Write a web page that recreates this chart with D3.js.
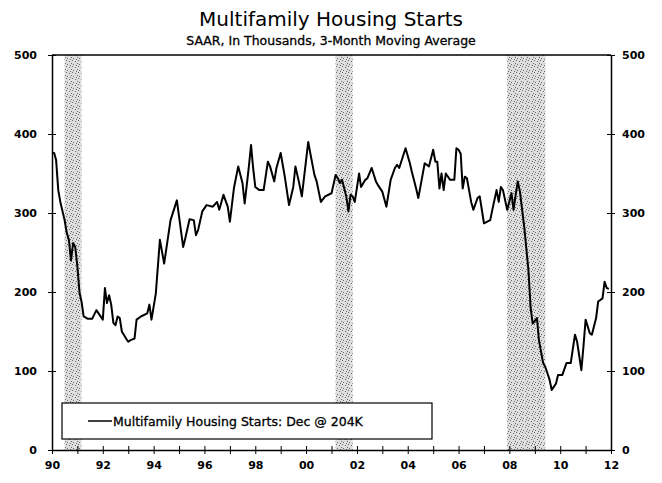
<!DOCTYPE html>
<html>
<head>
<script src="https://cdn.jsdelivr.net/npm/d3@7"></script>
<style>
  body { margin: 0; background: #fff; }
  text { font-family: "DejaVu Sans", Verdana, sans-serif; fill: #000; }
</style>
</head>
<body>
<svg width="662" height="483" id="mainsvg"></svg>
<script>
// monthly dates (3-month moving average, thousands, SAAR)
const months = [
  '1990-01','1990-02','1990-03','1990-04','1990-05','1990-07','1990-08','1990-09','1990-10','1990-11','1990-12',
  '1991-01','1991-02','1991-03','1991-04','1991-06','1991-08','1991-10','1991-11',
  '1992-01','1992-02','1992-03','1992-04','1992-05','1992-06','1992-07','1992-08','1992-09','1992-10','1992-12',
  '1993-01','1993-02','1993-04','1993-05','1993-07','1993-10','1993-11','1993-12',
  '1994-02','1994-04','1994-06','1994-09','1994-12',
  '1995-03','1995-04','1995-06','1995-08','1995-09','1995-10','1995-12',
  '1996-02','1996-05','1996-07','1996-08','1996-10','1996-12',
  '1997-01','1997-03','1997-05','1997-07','1997-08','1997-10','1997-11','1997-12',
  '1998-01','1998-03','1998-05','1998-07','1998-08','1998-10','1998-11',
  '1999-01','1999-03','1999-05','1999-07','1999-08','1999-10','1999-11',
  '2000-02','2000-03','2000-05','2000-06','2000-08','2000-10',
  '2001-01','2001-03','2001-04','2001-05','2001-06','2001-08','2001-09','2001-10','2001-11','2001-12',
  '2002-02','2002-03','2002-05','2002-06','2002-08','2002-10','2002-11',
  '2003-01','2003-03','2003-05','2003-07','2003-08','2003-09','2003-12',
  '2004-02','2004-03','2004-05','2004-06','2004-07','2004-09','2004-11',
  '2005-01','2005-02','2005-03','2005-04','2005-05','2005-06','2005-07','2005-09','2005-11','2005-12',
  '2006-01','2006-02','2006-03','2006-04','2006-05','2006-07','2006-08','2006-10','2006-11',
  '2007-01','2007-04','2007-05','2007-07','2007-08','2007-09','2007-10','2007-12',
  '2008-02','2008-03','2008-04','2008-05','2008-06','2008-08','2008-10','2008-11','2008-12',
  '2009-02','2009-03','2009-05','2009-06','2009-08','2009-09','2009-11','2009-12',
  '2010-02','2010-04','2010-06','2010-08','2010-09','2010-11','2010-12',
  '2011-01','2011-03','2011-04','2011-06','2011-07','2011-09','2011-10','2011-11','2011-12'
];
const starts = [
  376,376,367,329,314,291,275,266,240,262,257,
  232,199,188,169,166,166,177,173,
  165,205,186,196,184,161,158,169,167,150,141,
  137,139,141,165,169,173,184,165,
  198,266,236,291,316,
  257,268,292,291,272,278,302,
  310,308,314,304,323,308,
  289,332,359,338,312,359,386,357,
  333,329,329,365,359,340,357,
  376,346,310,333,359,335,321,
  390,376,348,340,314,321,
  325,348,344,338,342,321,302,323,321,314,
  350,333,342,344,357,340,335,
  327,308,342,357,361,357,382,
  363,352,331,319,333,363,359,
  380,365,365,331,350,329,350,342,342,382,
  380,375,331,346,344,314,304,319,321,
  287,291,304,329,314,333,329,304,
  325,304,323,340,327,283,228,181,160,
  167,139,110,105,89,76,84,95,
  95,110,110,146,137,101,131,
  165,148,146,167,188,192,213,205,204
];
// recessions (start, end)
const recessions = [['1990-07','1991-03'], ['2001-03','2001-11'], ['2007-12','2009-06']];
const yTicks = [0, 100, 200, 300, 400, 500];
const legendLabel = 'Multifamily Housing Starts: Dec @ 204K';

const svg = d3.select('svg');
const parse = d3.timeParse('%Y-%m');
const data = months.map((m, i) => ({ date: parse(m), value: starts[i] }));

const x = d3.scaleTime().domain([new Date(1990, 0, 1), new Date(2012, 0, 1)]).range([52, 611]);
const y = d3.scaleLinear().domain([0, 500]).range([450, 55]);

// stipple pattern for recession bars
const defs = svg.append('defs');
const pat = defs.append('pattern').attr('id', 'stip')
  .attr('width', 6).attr('height', 6).attr('patternUnits', 'userSpaceOnUse');
pat.append('rect').attr('width', 6).attr('height', 6).attr('fill', '#dedede');
[[0, 0], [3, 1], [5, 3], [1, 4], [4, 5]].forEach(p => {
  pat.append('rect').attr('x', p[0]).attr('y', p[1]).attr('width', 1).attr('height', 1).attr('fill', '#6a6a6a');
});

svg.append('g').selectAll('rect').data(recessions).join('rect')
  .attr('x', d => x(parse(d[0])))
  .attr('width', d => x(parse(d[1])) - x(parse(d[0])))
  .attr('y', y(500)).attr('height', y(0) - y(500))
  .attr('fill', 'url(#stip)');

// titles
svg.append('text').attr('x', 331).attr('y', 26).attr('text-anchor', 'middle')
  .style('font-size', '20px').text('Multifamily Housing Starts');
svg.append('text').attr('x', 331).attr('y', 45).attr('text-anchor', 'middle')
  .style('font-size', '12.5px').style('stroke', '#000').style('stroke-width', 0.3)
  .text('SAAR, In Thousands, 3-Month Moving Average');

// frame lines
svg.append('line').attr('x1', x.range()[0]).attr('x2', x.range()[1])
  .attr('y1', y(500)).attr('y2', y(500)).attr('stroke', '#000').attr('stroke-width', 1.5);

// y axes
const leftAxis = svg.append('g').attr('transform', `translate(${x.range()[0]},0)`)
  .call(d3.axisLeft(y).tickValues(yTicks).tickSize(0).tickPadding(15));
const rightAxis = svg.append('g').attr('transform', `translate(${x.range()[1]},0)`)
  .call(d3.axisRight(y).tickValues(yTicks).tickSize(0).tickPadding(11));
[leftAxis, rightAxis].forEach(g => {
  g.select('.domain').attr('stroke', '#000').attr('stroke-width', 1.5);
  g.selectAll('text').style('font-size', '11px').style('font-weight', 'bold');
  g.selectAll('.tick').append('line').attr('x1', -4).attr('x2', 4).attr('stroke', '#000');
});

// x axis
const years = d3.range(1990, 2013).map(yr => new Date(yr, 0, 1));
const xAxis = svg.append('g').attr('transform', `translate(0,${y(0)})`)
  .call(d3.axisBottom(x).tickValues(years).tickSize(0).tickPadding(11)
    .tickFormat(d => d.getFullYear() % 2 === 0 ? d3.timeFormat('%y')(d) : ''));
xAxis.select('.domain').attr('stroke', '#000').attr('stroke-width', 1.5);
xAxis.selectAll('text').style('font-size', '11px').style('font-weight', 'bold');
xAxis.selectAll('.tick').append('line').attr('y1', -4).attr('y2', 4).attr('stroke', '#000');

// line
const line = d3.line().x(d => x(d.date)).y(d => y(d.value));
svg.append('path').datum(data).attr('d', line)
  .attr('fill', 'none').attr('stroke', '#000').attr('stroke-width', 2).attr('stroke-linejoin', 'round');

// legend
const lg = svg.append('g');
lg.append('rect').attr('x', 62).attr('y', 403).attr('width', 370).attr('height', 36)
  .attr('fill', '#fff').attr('stroke', '#000').attr('stroke-width', 1.2);
lg.append('line').attr('x1', 88).attr('x2', 112).attr('y1', 421).attr('y2', 421)
  .attr('stroke', '#000').attr('stroke-width', 1.5);
lg.append('text').attr('x', 113).attr('y', 426).style('font-size', '12.5px')
  .style('stroke', '#000').style('stroke-width', 0.3).text(legendLabel);
</script>
</body>
</html>
